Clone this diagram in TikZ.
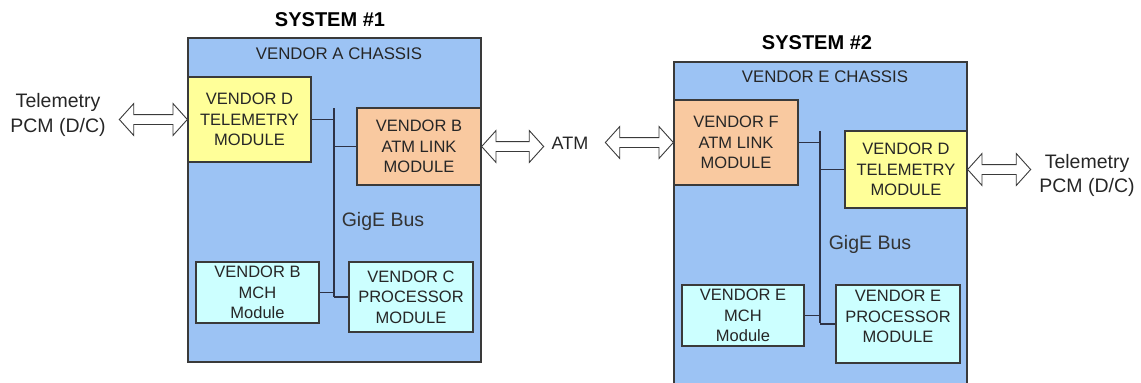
\documentclass[tikz,border=0pt]{standalone}
\usepackage{fontspec}
\setmainfont{Liberation Sans}
\usetikzlibrary{shapes.arrows,calc}

\definecolor{chassisblue}{RGB}{156,195,244}
\definecolor{modyellow}{RGB}{255,255,153}
\definecolor{modorange}{RGB}{249,201,160}
\definecolor{modcyan}{RGB}{204,255,255}
\definecolor{edgegray}{RGB}{58,58,58}
\definecolor{busline}{RGB}{45,50,70}

\tikzset{every picture/.style={line width=1.2pt}}
\tikzset{
  chassis/.style={draw=edgegray, fill=chassisblue, line width=1.4pt, inner sep=0pt},
  modtext/.style={align=center, text=black!85, font=\fontsize{16.5}{20.5}\selectfont},
  module/.style={draw=edgegray, line width=1.3pt, inner sep=0pt, modtext},
  fatarrow/.style={double arrow, draw=edgegray, fill=white, line width=0.9pt,
    inner xsep=0pt, inner ysep=4.5pt, double arrow head extend=11pt,
    double arrow tip angle=96},
  systitle/.style={font=\fontsize{20}{24}\selectfont\bfseries},
  chassislbl/.style={font=\fontsize{16.8}{20}\selectfont, text=black!85},
  sidelbl/.style={font=\fontsize{19.5}{24.5}\selectfont, align=center, text=black!85},
  buslbl/.style={font=\fontsize{19.5}{24}\selectfont, text=black!80},
  bus/.style={draw=busline, line width=1.5pt},
}

\begin{document}
\begin{tikzpicture}[x=1pt,y=1pt,yscale=-1,xscale=1]
\useasboundingbox (0,0) rectangle (1141,383);

%%% System 1
% Chassis
\node [chassis, minimum width=293pt, minimum height=324pt] (ch1) at (334.5,200) {};
% Text Node
\node [systitle] (title1) at (330,20) {SYSTEM \#1};
% Text Node
\node [chassislbl] (chl1) at (339,54) {VENDOR A CHASSIS};
% Modules
\node [module, fill=modyellow, minimum width=123pt, minimum height=85pt] (tm1) at (249.5,119.5) {VENDOR D\\TELEMETRY\\MODULE};
\node [module, fill=modorange, minimum width=124pt, minimum height=77pt] (atm1) at (419,146.5) {VENDOR B\\ATM LINK\\MODULE};
\node [module, fill=modcyan, minimum width=123pt, minimum height=61pt] (mch1) at (257.5,292.5) {VENDOR B\\MCH\\Module};
\node [module, fill=modcyan, minimum width=124pt, minimum height=70pt] (cpu1) at (411,297) {VENDOR C\\PROCESSOR\\MODULE};
% Bus
\coordinate (bt1) at (334,108);
\coordinate (bb1) at (334,297);
\draw [bus] (bt1) -- (bb1);
\draw [bus] (tm1.east) -- (tm1.east -| bt1);
\draw [bus] (atm1.west) -- (atm1.west -| bt1);
\draw [bus] (mch1.east) -- (mch1.east -| bt1);
\draw [bus] (cpu1.west) -- (cpu1.west -| bt1);
% Text Node
\node [buslbl] (gig1) at (383,221) {GigE Bus};

%%% Outside links
% Text Node
\node [sidelbl] (tel1) at (58,115) {Telemetry\\PCM (D/C)};
% Text Node
\node [sidelbl, font=\fontsize{18}{20}\selectfont] (atml) at (570,143) {ATM};
% Text Node
\node [sidelbl] (tel2) at (1087,175.5) {Telemetry\\PCM (D/C)};

%%% System 2
% Chassis
\node [chassis, minimum width=293pt, minimum height=333pt] (ch2) at (820.5,228.5) {};
% Text Node
\node [systitle] (title2) at (817,43) {SYSTEM \#2};
% Text Node
\node [chassislbl] (chl2) at (825,77) {VENDOR E CHASSIS};
% Modules
\node [module, fill=modorange, minimum width=124pt, minimum height=85pt] (atm2) at (736,142.5) {VENDOR F\\ATM LINK\\MODULE};
\node [module, fill=modyellow, minimum width=122pt, minimum height=77pt] (tm2) at (906,169.5) {VENDOR D\\TELEMETRY\\MODULE};
\node [module, fill=modcyan, minimum width=122pt, minimum height=61pt] (mch2) at (743,315.5) {VENDOR E\\MCH\\Module};
\node [module, fill=modcyan, minimum width=124pt, minimum height=78pt,
  label={[modtext, yshift=7.5pt]center:VENDOR E\\PROCESSOR\\MODULE}] (cpu2) at (898,324) {};
% Bus
\coordinate (bt2) at (820,131);
\coordinate (bb2) at (820,323);
\draw [bus] (bt2) -- (bb2);
\draw [bus] (atm2.east) -- (atm2.east -| bt2);
\draw [bus] (tm2.west) -- (tm2.west -| bt2);
\draw [bus] (mch2.east) -- (mch2.east -| bt2);
\draw [bus] (cpu2.west) -- (cpu2.west -| bt2);
% Text Node
\node [buslbl] (gig2) at (870,244) {GigE Bus};

%%% Double arrows
\node [fatarrow, minimum height=68pt] (a1) at ($(tm1.west)+(-34,0)$) {};
\node [fatarrow, minimum height=62pt] (a2) at ($(atm1.east)+(31,0)$) {};
\node [fatarrow, minimum height=68pt] (a3) at ($(atm2.west)+(-34,0)$) {};
\node [fatarrow, minimum height=63pt] (a4) at ($(tm2.east)+(31.5,0)$) {};

\end{tikzpicture}
\end{document}
